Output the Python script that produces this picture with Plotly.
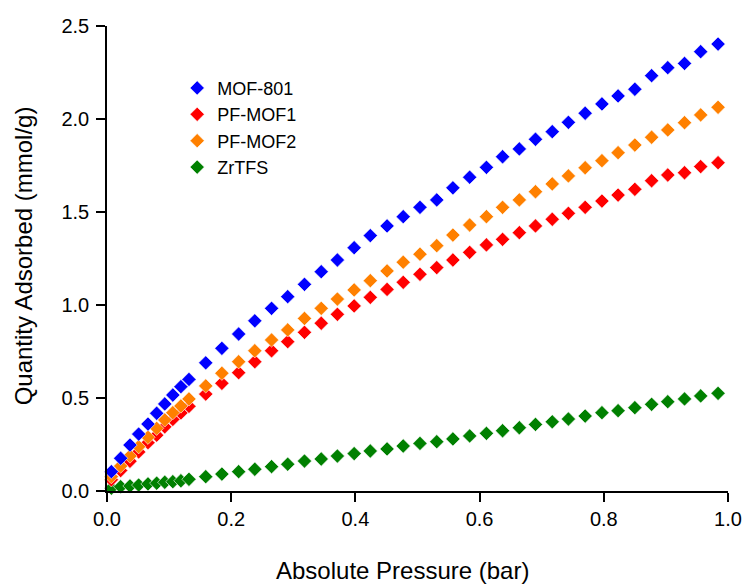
import plotly.graph_objects as go

# Absolute pressure (bar) at each isotherm point
pressure = [0.007, 0.022, 0.037, 0.051, 0.066, 0.080, 0.093, 0.106, 0.119, 0.132,
            0.159, 0.185, 0.212, 0.238, 0.265, 0.291, 0.318, 0.345, 0.371, 0.398,
            0.424, 0.451, 0.477, 0.504, 0.531, 0.557, 0.584, 0.611, 0.637, 0.664,
            0.690, 0.717, 0.743, 0.770, 0.797, 0.823, 0.850, 0.877, 0.903, 0.930,
            0.956, 0.984]

# Quantity adsorbed (mmol/g)
mof801 = [0.104, 0.176, 0.247, 0.306, 0.360, 0.418, 0.468, 0.516, 0.561, 0.600,
          0.689, 0.767, 0.844, 0.915, 0.982, 1.045, 1.111, 1.179, 1.242, 1.308,
          1.373, 1.425, 1.475, 1.525, 1.565, 1.630, 1.687, 1.740, 1.797, 1.839,
          1.891, 1.932, 1.982, 2.031, 2.081, 2.124, 2.160, 2.233, 2.276, 2.299,
          2.362, 2.403]

pf_mof1 = [0.060, 0.110, 0.160, 0.210, 0.260, 0.300, 0.345, 0.385, 0.420, 0.455,
           0.521, 0.579, 0.636, 0.695, 0.754, 0.803, 0.853, 0.902, 0.950, 0.995,
           1.041, 1.084, 1.122, 1.165, 1.201, 1.242, 1.283, 1.323, 1.353, 1.389,
           1.425, 1.461, 1.493, 1.525, 1.559, 1.591, 1.622, 1.668, 1.699, 1.711,
           1.744, 1.765]

pf_mof2 = [0.077, 0.134, 0.188, 0.238, 0.289, 0.337, 0.382, 0.421, 0.457, 0.495,
           0.565, 0.633, 0.695, 0.754, 0.812, 0.866, 0.928, 0.982, 1.032, 1.081,
           1.131, 1.183, 1.230, 1.273, 1.319, 1.376, 1.430, 1.475, 1.525, 1.565,
           1.609, 1.651, 1.694, 1.738, 1.776, 1.819, 1.860, 1.902, 1.941, 1.980,
           2.022, 2.063]

zrtfs = [0.015, 0.023, 0.027, 0.032, 0.038, 0.042, 0.047, 0.050, 0.055, 0.063,
         0.077, 0.091, 0.104, 0.117, 0.131, 0.144, 0.161, 0.172, 0.188, 0.201,
         0.215, 0.226, 0.242, 0.256, 0.265, 0.280, 0.296, 0.310, 0.324, 0.340,
         0.358, 0.372, 0.387, 0.403, 0.421, 0.432, 0.448, 0.466, 0.480, 0.495,
         0.511, 0.525]

x_ticks = [0.0, 0.2, 0.4, 0.6, 0.8, 1.0]
y_ticks = [0.0, 0.5, 1.0, 1.5, 2.0, 2.5]

# (name, values, colour, legend position); drawn bottom-up so blue sits on top
series = [
    ("ZrTFS", zrtfs, "#008000", 4),
    ("PF-MOF1", pf_mof1, "#FF0000", 2),
    ("PF-MOF2", pf_mof2, "#FF8000", 3),
    ("MOF-801", mof801, "#0000FF", 1),
]

fig = go.Figure()
for name, vals, color, rank in series:
    fig.add_trace(go.Scatter(
        x=pressure, y=vals, mode="markers", name=name, legendrank=rank,
        marker=dict(symbol="diamond", size=11, color=color,
                    line=dict(color="white", width=0.6)),
        cliponaxis=False,
    ))

font = "Liberation Sans, Arial, sans-serif"
axis_common = dict(
    showline=True, linecolor="black", linewidth=1.5,
    ticks="outside", ticklen=9, tickwidth=1.5, tickcolor="black",
    showgrid=False, zeroline=False, mirror=False,
    tickfont=dict(family=font, size=20, color="black"),
    tickformat=".1f",
)

# Axis titles placed as paper-anchored annotations
titles = [
    dict(text="Absolute Pressure (bar)", x=0.476, y=-0.172, textangle=0),
    dict(text="Quantity Adsorbed (mmol/g)", x=-0.135, y=0.505, textangle=-90),
]
annotations = [
    dict(text=t["text"], x=t["x"], y=t["y"], xref="paper", yref="paper",
         xanchor="center", yanchor="middle", textangle=t["textangle"],
         showarrow=False, font=dict(family=font, size=24, color="black"))
    for t in titles
]

fig.update_layout(
    width=754, height=584,
    margin=dict(l=107, r=17, t=26, b=93),
    paper_bgcolor="white", plot_bgcolor="white",
    font=dict(family=font, color="black"),
    xaxis=dict(range=[0, 1], tickvals=x_ticks, **axis_common),
    yaxis=dict(range=[0, 2.5], tickvals=y_ticks, ticklabelstandoff=3, **axis_common),
    annotations=annotations,
    legend=dict(x=0.113, y=0.906, xanchor="left", yanchor="top",
                font=dict(family=font, size=18, color="black"),
                bgcolor="rgba(0,0,0,0)", itemwidth=30, tracegroupgap=0),
    showlegend=True,
)

fig.write_html("out.html")
